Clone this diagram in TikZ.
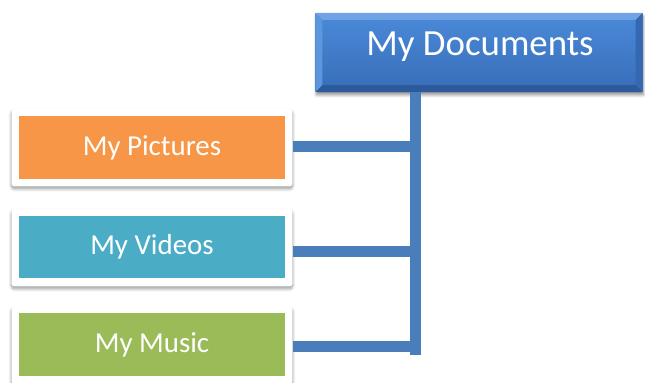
\documentclass[tikz,border=0pt]{standalone}
\usepackage{fontspec}
\setmainfont{Carlito}
\usetikzlibrary{shadows.blur}
\definecolor{docblue}{HTML}{3F7BCB}
\definecolor{docblueT}{HTML}{4A8AD9}
\definecolor{docblueB}{HTML}{386DB8}
\definecolor{bevlight}{HTML}{6FA3E6}
\definecolor{bevdark}{HTML}{2C5A9A}
\definecolor{bevside}{HTML}{3468B0}
\definecolor{conn}{HTML}{4A7EBB}
\definecolor{orangebox}{HTML}{F79646}
\definecolor{tealbox}{HTML}{4BACC6}
\definecolor{greenbox}{HTML}{9BBB59}
\tikzset{
  card/.style={draw=none, fill=white, rounded corners=3pt, minimum width=282, minimum height=78,
    blur shadow={shadow xshift=0pt, shadow yshift=-2.5pt, shadow blur radius=3pt, shadow blur steps=8, shadow opacity=40}},
  inner/.style={draw=none, minimum width=266, minimum height=63, text=white, font=\fontsize{29}{32}\selectfont, inner sep=0pt},
  connector/.style={draw=conn, line width=11bp},
}
\begin{document}
\begin{tikzpicture}[x=1bp, y=-1bp]
\useasboundingbox (0,0) rectangle (645,382);
% top box
\node[draw=none, minimum width=328, minimum height=79, inner sep=0pt, top color=docblueT, bottom color=docblueB,
  blur shadow={shadow xshift=1pt, shadow yshift=-3pt, shadow blur radius=3pt, shadow blur steps=8, shadow opacity=45}] (doc) at (479,52.5) {};
\fill[bevlight] (doc.north west) -- (doc.north east) -- ([xshift=-7,yshift=-7]doc.north east) -- ([xshift=7,yshift=-7]doc.north west) -- cycle;
\fill[bevdark] (doc.south west) -- (doc.south east) -- ([xshift=-7,yshift=7]doc.south east) -- ([xshift=7,yshift=7]doc.south west) -- cycle;
\fill[docblueT!90!white] (doc.north west) -- ([xshift=7,yshift=-7]doc.north west) -- ([xshift=7,yshift=7]doc.south west) -- (doc.south west) -- cycle;
\fill[bevside] (doc.north east) -- ([xshift=-7,yshift=-7]doc.north east) -- ([xshift=-7,yshift=7]doc.south east) -- (doc.south east) -- cycle;
\node[text=white, font=\fontsize{37}{40}\selectfont, inner sep=0pt] (doctext) at (480,47) {My Documents};
% cards
\node[card] (picCard) at (152,147.5) {};
\node[inner, fill=orangebox] (pic) at (152,147.5) {My Pictures};
\node[card] (vidCard) at (152,247.5) {};
\node[inner, fill=tealbox] (vid) at (152,247) {My Videos};
\node[card] (musCard) at (152,345) {};
\node[inner, fill=greenbox] (mus) at (152,344.5) {My Music};
% connectors
\coordinate (busTop) at (415.5,92);
\coordinate (busBot) at (415.5,355);
\coordinate (picJ) at (415.5,146.5);
\coordinate (vidJ) at (415.5,251);
\coordinate (musJ) at (415.5,346.5);
\draw[connector] (busTop) -- (busBot);
\draw[connector] (picCard.east |- picJ) -- ([xshift=5.5]picJ);
\draw[connector] (vidCard.east |- vidJ) -- ([xshift=5.5]vidJ);
\draw[connector] (musCard.east |- musJ) -- ([xshift=5.5]musJ);
\end{tikzpicture}
\end{document}
